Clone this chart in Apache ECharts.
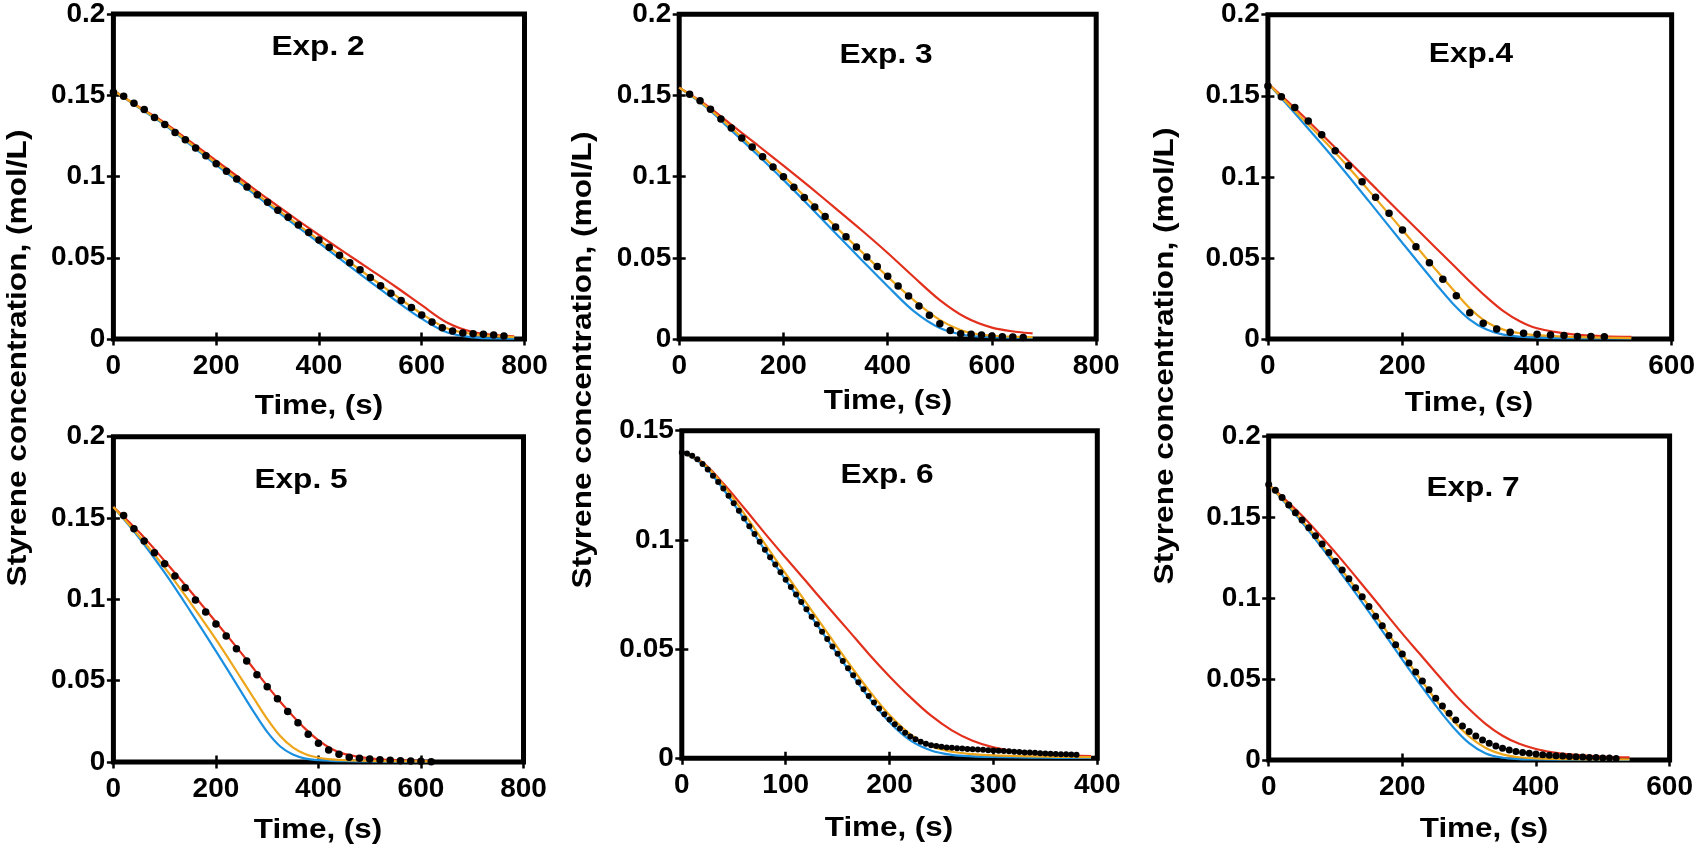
<!DOCTYPE html>
<html><head><meta charset="utf-8">
<script src="https://cdn.jsdelivr.net/npm/echarts@6/dist/echarts.min.js"></script>
<style>html,body{margin:0;padding:0;background:#fff}#c{width:1698px;height:852px}</style>
</head><body><div id="c"></div>
<script>
// ---------- Exp. 2 ----------
const exp2DotT = [0,20,40,60,80,100,120,140,160,180,200,220,240,260,280,300,320,340,360,380,400,420,440,460,480,500,520,540,560,580,600,620,640,660,680,700,720,740,760];
const exp2DotC = [.1519,.1494,.1451,.1412,.1363,.1320,.1271,.1226,.1175,.1128,.1079,.1032,.0985,.0936,.0888,.0841,.0792,.0749,.0702,.0655,.0610,.0565,.0516,.0469,.0426,.0379,.0328,.0282,.0237,.0194,.0147,.0104,.0070,.0049,.0037,.0033,.0029,.0025,.0018];
const exp2LineT = [0,50,100,150,200,250,300,350,400,450,500,550,600,650,700,750,780];
const exp2Blue = [.1530,.1422,.1316,.1195,.1072,.0950,.0829,.0710,.0592,.0472,.0352,.0235,.0125,.0040,.0010,.0003,.0002];
const exp2Yellow = [.1530,.1425,.1322,.1202,.1082,.0962,.0843,.0725,.0610,.0494,.0380,.0265,.0155,.0064,.0030,.0016,.0012];
const exp2Red = [.1530,.1428,.1330,.1214,.1097,.0980,.0863,.0750,.0640,.0533,.0427,.0320,.0208,.0100,.0042,.0022,.0017];
// ---------- Exp. 3 ----------
const exp3DotT = [20,40,60,80,100,120,140,160,180,200,220,240,260,280,300,320,340,360,380,400,420,440,460,480,500,520,540,560,580,600,620,640,660];
const exp3DotC = [.1507,.1468,.1415,.1355,.1300,.1238,.1183,.1123,.1060,.1000,.0934,.0871,.0813,.0754,.0690,.0630,.0567,.0505,.0446,.0386,.0326,.0265,.0203,.0146,.0094,.0053,.0033,.0029,.0025,.0018,.0014,.0012,.0010];
const exp3LineT = [0,50,100,150,200,250,300,350,400,450,500,550,600,650,678];
const exp3Blue = [.1548,.1432,.1285,.1135,.0980,.0818,.0652,.0487,.0325,.0172,.0068,.0023,.0011,.0008,.0008];
const exp3Yellow = [.1548,.1438,.1300,.1155,.1005,.0850,.0692,.0537,.0384,.0240,.0118,.0045,.0020,.0013,.0012];
const exp3Red = [.1548,.1445,.1320,.1195,.1068,.0938,.0805,.0670,.0530,.0382,.0240,.0132,.0070,.0043,.0035];
// ---------- Exp. 4 ----------
const exp4DotT = [0,20,40,60,80,100,120,140,160,180,200,220,240,260,280,300,320,340,360,380,400,420,440,460,480,500];
const exp4DotC = [.1560,.1494,.1427,.1344,.1260,.1161,.1069,.0970,.0874,.0775,.0672,.0569,.0471,.0368,.0267,.0162,.0097,.0062,.0041,.0035,.0029,.0025,.0021,.0016,.0016,.0014];
const exp4LineT = [0,50,100,150,200,250,275,300,325,350,375,400,450,500,540];
const exp4Blue = [.1577,.1345,.1104,.0850,.0592,.0338,.0218,.0120,.0058,.0027,.0014,.0009,.0005,.0004,.0003];
const exp4Yellow = [.1577,.1365,.1150,.0915,.0672,.0425,.0305,.0190,.0105,.0058,.0035,.0024,.0013,.0008,.0006];
const exp4Red = [.1577,.1385,.1180,.0972,.0765,.0560,.0458,.0355,.0258,.0172,.0108,.0066,.0030,.0017,.0013];
// ---------- Exp. 5 ----------
const exp5DotT = [20,40,60,80,100,120,140,160,180,200,220,240,260,280,300,320,340,360,380,400,420,440,460,480,500,520,540,560,580,600,620];
const exp5DotC = [.1516,.1434,.1359,.1287,.1219,.1143,.1072,.0996,.0922,.0848,.0775,.0697,.0621,.0537,.0463,.0389,.0311,.0242,.0170,.0115,.0074,.0047,.0029,.0023,.0018,.0014,.0010,.0008,.0006,.0004,.0002];
const exp5LineT = [0,50,100,150,200,250,275,300,325,350,375,400,425,450,500,550,620];
const exp5Blue = [.1568,.1379,.1164,.0928,.0682,.0428,.0302,.0185,.0097,.0046,.0021,.0011,.0007,.0005,.0003,.0002,.0002];
const exp5Yellow = [.1568,.1389,.1195,.0980,.0754,.0510,.0386,.0265,.0162,.0090,.0047,.0026,.0016,.0011,.0007,.0005,.0004];
const exp5Red = [.1568,.1414,.1236,.1051,.0861,.0668,.0568,.0468,.0372,.0283,.0202,.0133,.0082,.0050,.0022,.0011,.0006];
// ---------- Exp. 6 ----------
const exp6DotT = [0,5,10,15,20,25,30,35,40,45,50,55,60,65,70,75,80,85,90,95,100,105,110,115,120,125,130,135,140,145,150,155,160,165,170,175,180,185,190,195,200,205,210,215,220,225,230,235,240,245,250,255,260,265,270,275,280,285,290,295,300,305,310,315,320,325,330,335,340,345,350,355,360,365,370,375,380];
const exp6DotC = [.1400,.1396,.1385,.1369,.1348,.1322,.1294,.1265,.1235,.1202,.1168,.1133,.1098,.1062,.1027,.0991,.0955,.0921,.0887,.0852,.0818,.0784,.0750,.0716,.0682,.0648,.0614,.0580,.0546,.0512,.0479,.0445,.0412,.0380,.0348,.0316,.0285,.0256,.0228,.0202,.0178,.0156,.0136,.0117,.0100,.0087,.0076,.0067,.0060,.0056,.0053,.0050,.0048,.0046,.0045,.0043,.0042,.0040,.0039,.0037,.0036,.0035,.0033,.0032,.0030,.0029,.0027,.0026,.0025,.0023,.0022,.0021,.0020,.0019,.0018,.0017,.0016];
const exp6LineT = [0,20,40,60,80,100,120,140,160,180,200,220,240,260,280,300,325,350,375,394];
const exp6Blue = [.1400,.1346,.1232,.1095,.0953,.0816,.0680,.0544,.0408,.0278,.0165,.0082,.0036,.0016,.0009,.0006,.0004,.0003,.0002,.0002];
const exp6Yellow = [.1400,.1352,.1250,.1120,.0982,.0845,.0710,.0575,.0440,.0312,.0198,.0110,.0055,.0030,.0019,.0013,.0010,.0007,.0006,.0005];
const exp6Red = [.1400,.1355,.1258,.1146,.1030,.0918,.0808,.0697,.0588,.0478,.0375,.0280,.0195,.0128,.0080,.0050,.0028,.0017,.0012,.0010];
// ---------- Exp. 7 ----------
const exp7DotT = [0,10,20,30,40,50,60,70,80,90,100,110,120,130,140,150,160,170,180,190,200,210,220,230,240,250,260,270,280,290,300,310,320,330,340,350,360,370,380,390,400,410,420,430,440,450,460,470,480,490,500,510,520];
const exp7DotC = [.1700,.1665,.1620,.1574,.1527,.1481,.1434,.1385,.1334,.1281,.1227,.1173,.1119,.1063,.1007,.0948,.0888,.0828,.0769,.0711,.0654,.0598,.0543,.0487,.0433,.0381,.0333,.0288,.0247,.0210,.0176,.0148,.0123,.0103,.0086,.0072,.0062,.0053,.0046,.0041,.0037,.0033,.0030,.0027,.0025,.0022,.0020,.0018,.0016,.0015,.0013,.0012,.0010];
const exp7LineT = [0,50,100,150,200,225,250,275,300,325,350,375,400,425,450,500,540];
const exp7Blue = [.1700,.1465,.1198,.0915,.0620,.0475,.0336,.0208,.0104,.0040,.0014,.0006,.0003,.0002,.0002,.0001,.0001];
const exp7Yellow = [.1700,.1478,.1222,.0950,.0655,.0512,.0372,.0248,.0145,.0074,.0035,.0017,.0010,.0007,.0005,.0004,.0003];
const exp7Red = [.1700,.1508,.1280,.1032,.0780,.0660,.0540,.0422,.0315,.0222,.0150,.0100,.0068,.0048,.0035,.0021,.0016];

const titles = ['Exp. 2','Exp. 3','Exp.4','Exp. 5','Exp. 6','Exp. 7'];
const xTitle = 'Time, (s)';
const yTitle = 'Styrene concentration, (mol/L)';
const xMaxes = [800,800,600,800,400,600];
const xIntervals = [200,200,200,200,100,200];
const yMaxes = [0.2,0.2,0.2,0.2,0.15,0.2];
const yInterval = 0.05;

const data = [
  {dT:exp2DotT,dC:exp2DotC,lT:exp2LineT,b:exp2Blue,y:exp2Yellow,r:exp2Red},
  {dT:exp3DotT,dC:exp3DotC,lT:exp3LineT,b:exp3Blue,y:exp3Yellow,r:exp3Red},
  {dT:exp4DotT,dC:exp4DotC,lT:exp4LineT,b:exp4Blue,y:exp4Yellow,r:exp4Red},
  {dT:exp5DotT,dC:exp5DotC,lT:exp5LineT,b:exp5Blue,y:exp5Yellow,r:exp5Red},
  {dT:exp6DotT,dC:exp6DotC,lT:exp6LineT,b:exp6Blue,y:exp6Yellow,r:exp6Red},
  {dT:exp7DotT,dC:exp7DotC,lT:exp7LineT,b:exp7Blue,y:exp7Yellow,r:exp7Red}
];

// layout (pixels)
const boxes = [
  [113.4, 13.3, 411.1, 325.7],
  [679.2, 14.3, 417.0, 324.7],
  [1267.9, 14.7, 404.3, 324.3],
  [113.4, 436.7, 410.1, 325.3],
  [681.8, 430.7, 415.5, 327.6],
  [1268.7, 436.0, 400.9, 324.0]
];
const titlePos = [[318,47],[886,55],[1471,54],[301,480],[887,475],[1473,488]];
const xTitlePos = [[319,406],[888,401],[1469,403],[318,830],[889,828],[1484,829]];
const yTitlePos = [[18.5,358],[583,360],[1165,356]];
const dotSizes = [7.5,7.5,7.5,7.5,6,7];

const FONT = '"Liberation Sans", Arial, sans-serif';
const COL_BLUE = '#1a8fe0', COL_RED = '#e2301c', COL_YEL = '#eda51a';

const grids = [], xAxes = [], yAxes = [], series = [], graphics = [];
boxes.forEach((b, i) => {
  grids.push({left:b[0], top:b[1], width:b[2], height:b[3], show:true, borderColor:'#000', borderWidth:5, backgroundColor:'transparent', containLabel:false});
  const tick = {show:true, inside:true, length:6.5, lineStyle:{color:'#000', width:2.5}};
  const xBase = {type:'value', gridIndex:i, min:0, max:xMaxes[i], interval:xIntervals[i], splitLine:{show:false}, axisLine:{show:false}, axisTick:tick};
  xAxes.push(Object.assign({}, xBase, {position:'bottom', axisLabel:{show:true, color:'#000', fontFamily:FONT, fontWeight:'bold', fontSize:28, margin:13}}));
  xAxes.push(Object.assign({}, xBase, {position:'top', axisLabel:{show:false}}));
  const yBase = {type:'value', gridIndex:i, min:0, max:yMaxes[i], interval:yInterval, splitLine:{show:false}, axisLine:{show:false}, axisTick:tick};
  yAxes.push(Object.assign({}, yBase, {position:'left', axisLabel:{show:true, color:'#000', fontFamily:FONT, fontWeight:'bold', fontSize:28, margin:8, formatter:v => String(Math.round(v*100)/100)}}));
  yAxes.push(Object.assign({}, yBase, {position:'right', axisLabel:{show:false}}));
  const d = data[i];
  const mk = (vals, color, z) => ({type:'line', xAxisIndex:2*i, yAxisIndex:2*i, data:d.lT.map((t,k)=>[t, vals[k]]), showSymbol:false, symbol:'none', smooth:0.35, lineStyle:{color, width:2.2}, z, silent:true});
  series.push(mk(d.b, COL_BLUE, 2));
  series.push(mk(d.r, COL_RED, 3));
  series.push(mk(d.y, COL_YEL, 4));
  series.push({type:'scatter', xAxisIndex:2*i, yAxisIndex:2*i, data:d.dT.map((t,k)=>[t, d.dC[k]]), symbol:'circle', symbolSize:dotSizes[i], itemStyle:{color:'#000', opacity:1}, z:5, silent:true});
  graphics.push({type:'text', x:titlePos[i][0], y:titlePos[i][1], scaleX:1.13, style:{text:titles[i], font:'bold 28px ' + FONT, fill:'#000', align:'center', verticalAlign:'middle', textAlign:'center', textVerticalAlign:'middle'}});
  graphics.push({type:'text', x:xTitlePos[i][0], y:xTitlePos[i][1], scaleX:1.12, style:{text:xTitle, font:'bold 28px ' + FONT, fill:'#000', align:'center', verticalAlign:'middle', textAlign:'center', textVerticalAlign:'middle'}});
});
yTitlePos.forEach(p => {
  graphics.push({type:'text', x:p[0], y:p[1], rotation:Math.PI/2, scaleX:1.15, style:{text:yTitle, font:'bold 27.5px ' + FONT, fill:'#000', align:'center', verticalAlign:'middle', textAlign:'center', textVerticalAlign:'middle'}});
});

const chart = echarts.init(document.getElementById('c'), null, {renderer:'canvas'});
chart.setOption({animation:false, backgroundColor:'#fff', grid:grids, xAxis:xAxes, yAxis:yAxes, series, graphic:graphics});
</script></body></html>
